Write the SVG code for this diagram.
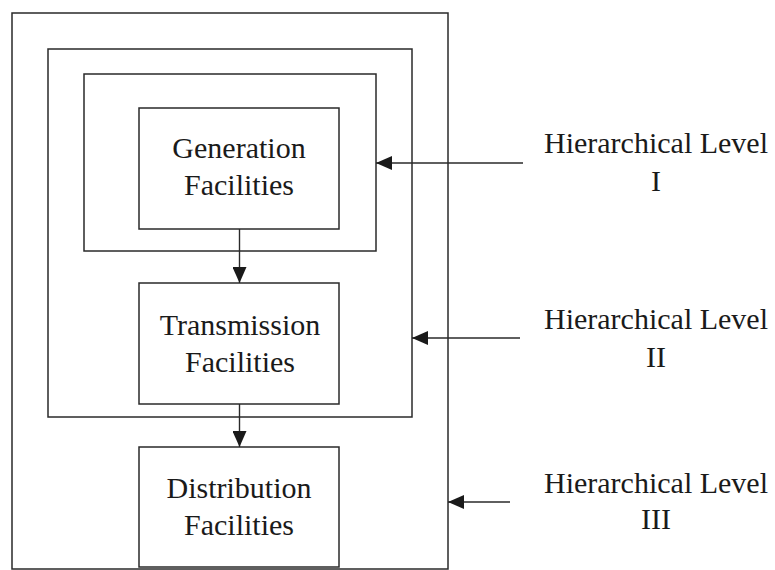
<svg xmlns="http://www.w3.org/2000/svg" width="775" height="570" viewBox="0 0 775 570">
  <style>
    .box { fill: none; stroke: #2a2a2a; stroke-width: 1.5; }
    .wire { fill: none; stroke: #2a2a2a; stroke-width: 1.4; }
    .label { font-family: "Liberation Serif", "Times New Roman", serif; font-size: 30px; fill: #1a1a1a; text-anchor: middle; }
  </style>
  <defs>
    <marker id="head" markerUnits="userSpaceOnUse" markerWidth="16" markerHeight="14" refX="16" refY="7" orient="auto">
      <path d="M0,0 L16,7 L0,14 Z" fill="#1a1a1a"/>
    </marker>
  </defs>
  <rect width="775" height="570" fill="#ffffff"/>

  <!-- nested level boundaries -->
  <g id="level-3">
    <rect class="box" x="12" y="13" width="436" height="556"/>
  </g>
  <g id="level-2">
    <rect class="box" x="48" y="49" width="364" height="368"/>
  </g>
  <g id="level-1">
    <rect class="box" x="84" y="74" width="292" height="177"/>
  </g>

  <!-- facility blocks -->
  <g id="generation">
    <rect class="box" x="139" y="108" width="200" height="121"/>
    <text class="label" x="239" y="158">Generation</text>
    <text class="label" x="239" y="195">Facilities</text>
  </g>
  <g id="transmission">
    <rect class="box" x="139" y="283" width="200" height="121"/>
    <text class="label" x="240" y="335">Transmission</text>
    <text class="label" x="240" y="372">Facilities</text>
  </g>
  <g id="distribution">
    <rect class="box" x="139" y="447" width="200" height="120"/>
    <text class="label" x="239" y="498">Distribution</text>
    <text class="label" x="239" y="535">Facilities</text>
  </g>

  <!-- level captions -->
  <g id="caption-1">
    <text class="label" x="656" y="153">Hierarchical Level</text>
    <text class="label" x="656" y="191">I</text>
  </g>
  <g id="caption-2">
    <text class="label" x="656" y="329">Hierarchical Level</text>
    <text class="label" x="656" y="367">II</text>
  </g>
  <g id="caption-3">
    <text class="label" x="656" y="493">Hierarchical Level</text>
    <text class="label" x="656" y="529">III</text>
  </g>

  <!-- connectors -->
  <g id="connectors">
    <line class="wire" x1="239.5" y1="229" x2="239.5" y2="283" marker-end="url(#head)"/>
    <line class="wire" x1="239.5" y1="404" x2="239.5" y2="447" marker-end="url(#head)"/>
    <line class="wire" x1="523" y1="163" x2="376" y2="163" marker-end="url(#head)"/>
    <line class="wire" x1="520" y1="338" x2="412" y2="338" marker-end="url(#head)"/>
    <line class="wire" x1="510" y1="502" x2="448" y2="502" marker-end="url(#head)"/>
  </g>
</svg>
